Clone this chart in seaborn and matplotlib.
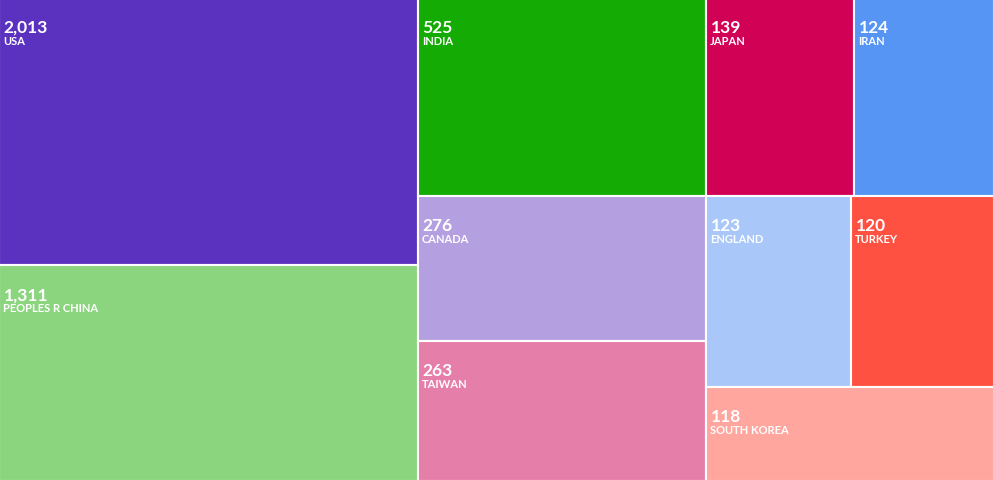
import numpy as np
import pandas as pd
import matplotlib
matplotlib.use("Agg")
import matplotlib.pyplot as plt
import seaborn as sns
from matplotlib.patches import Rectangle

# ---- data ----
countries = ["USA", "PEOPLES R CHINA", "INDIA", "CANADA", "TAIWAN",
             "JAPAN", "IRAN", "ENGLAND", "TURKEY", "SOUTH KOREA"]
records = [2013, 1311, 525, 276, 263, 139, 124, 123, 120, 118]
colors = ["#5b32bf", "#8bd57f", "#14ab05", "#b49fe0", "#e57faa",
          "#d10256", "#5795f5", "#a9c7f9", "#ff5142", "#ffa69e"]

df = pd.DataFrame({"country": countries, "records": records, "color": colors})

# ---- layout (nested slice-and-dice; tile size on a square-root scale) ----
structure = [[0, 1], [2, 3, 4], [[5, 6], [7, 8], [9]]]
size = np.sqrt(df["records"].to_numpy(dtype=float))


def weight(node):
    if isinstance(node, int):
        return size[node]
    return sum(weight(n) for n in node)


def layout(node, x, y, w, h, horizontal, out):
    if isinstance(node, int):
        out[node] = (x, y, w, h)
        return
    if len(node) == 1:
        layout(node[0], x, y, w, h, not horizontal, out)
        return
    total = weight(node)
    pos = 0.0
    for child in node:
        frac = weight(child) / total
        if horizontal:
            layout(child, x + pos * w, y, frac * w, h, not horizontal, out)
        else:
            layout(child, x, y + pos * h, w, frac * h, not horizontal, out)
        pos += frac


rects = {}
layout(structure, 0.0, 0.0, 1.0, 1.0, True, rects)

# ---- draw ----
sns.set_theme(style="white")
plt.rcParams["font.family"] = ["Lato", "DejaVu Sans"]

W, H = 993, 481
fig = plt.figure(figsize=(W / 100, H / 100), dpi=100)
ax = fig.add_axes([0, 0, 1, 1])
# hide the outer half of the white tile borders
ax.set_xlim(1.2 / W, 1 - 1.2 / W)
ax.set_ylim(1 - 1.2 / H, 1.2 / H)
ax.axis("off")

for i, row in df.iterrows():
    x, y, w, h = rects[i]
    ax.add_patch(Rectangle((x, y), w, h, facecolor=row["color"],
                           edgecolor="white", linewidth=1.5))
    ax.annotate(f"{row['records']:,}", xy=(x, y), xytext=(5, -34),
                textcoords="offset pixels", color="white", fontsize=12.5,
                fontweight="bold", ha="left", va="baseline",
                annotation_clip=False)
    ax.annotate(row["country"], xy=(x, y), xytext=(4, -46),
                textcoords="offset pixels", color="white", fontsize=8,
                fontweight="bold", ha="left", va="baseline",
                annotation_clip=False)

fig.savefig("out.png", dpi=100)
